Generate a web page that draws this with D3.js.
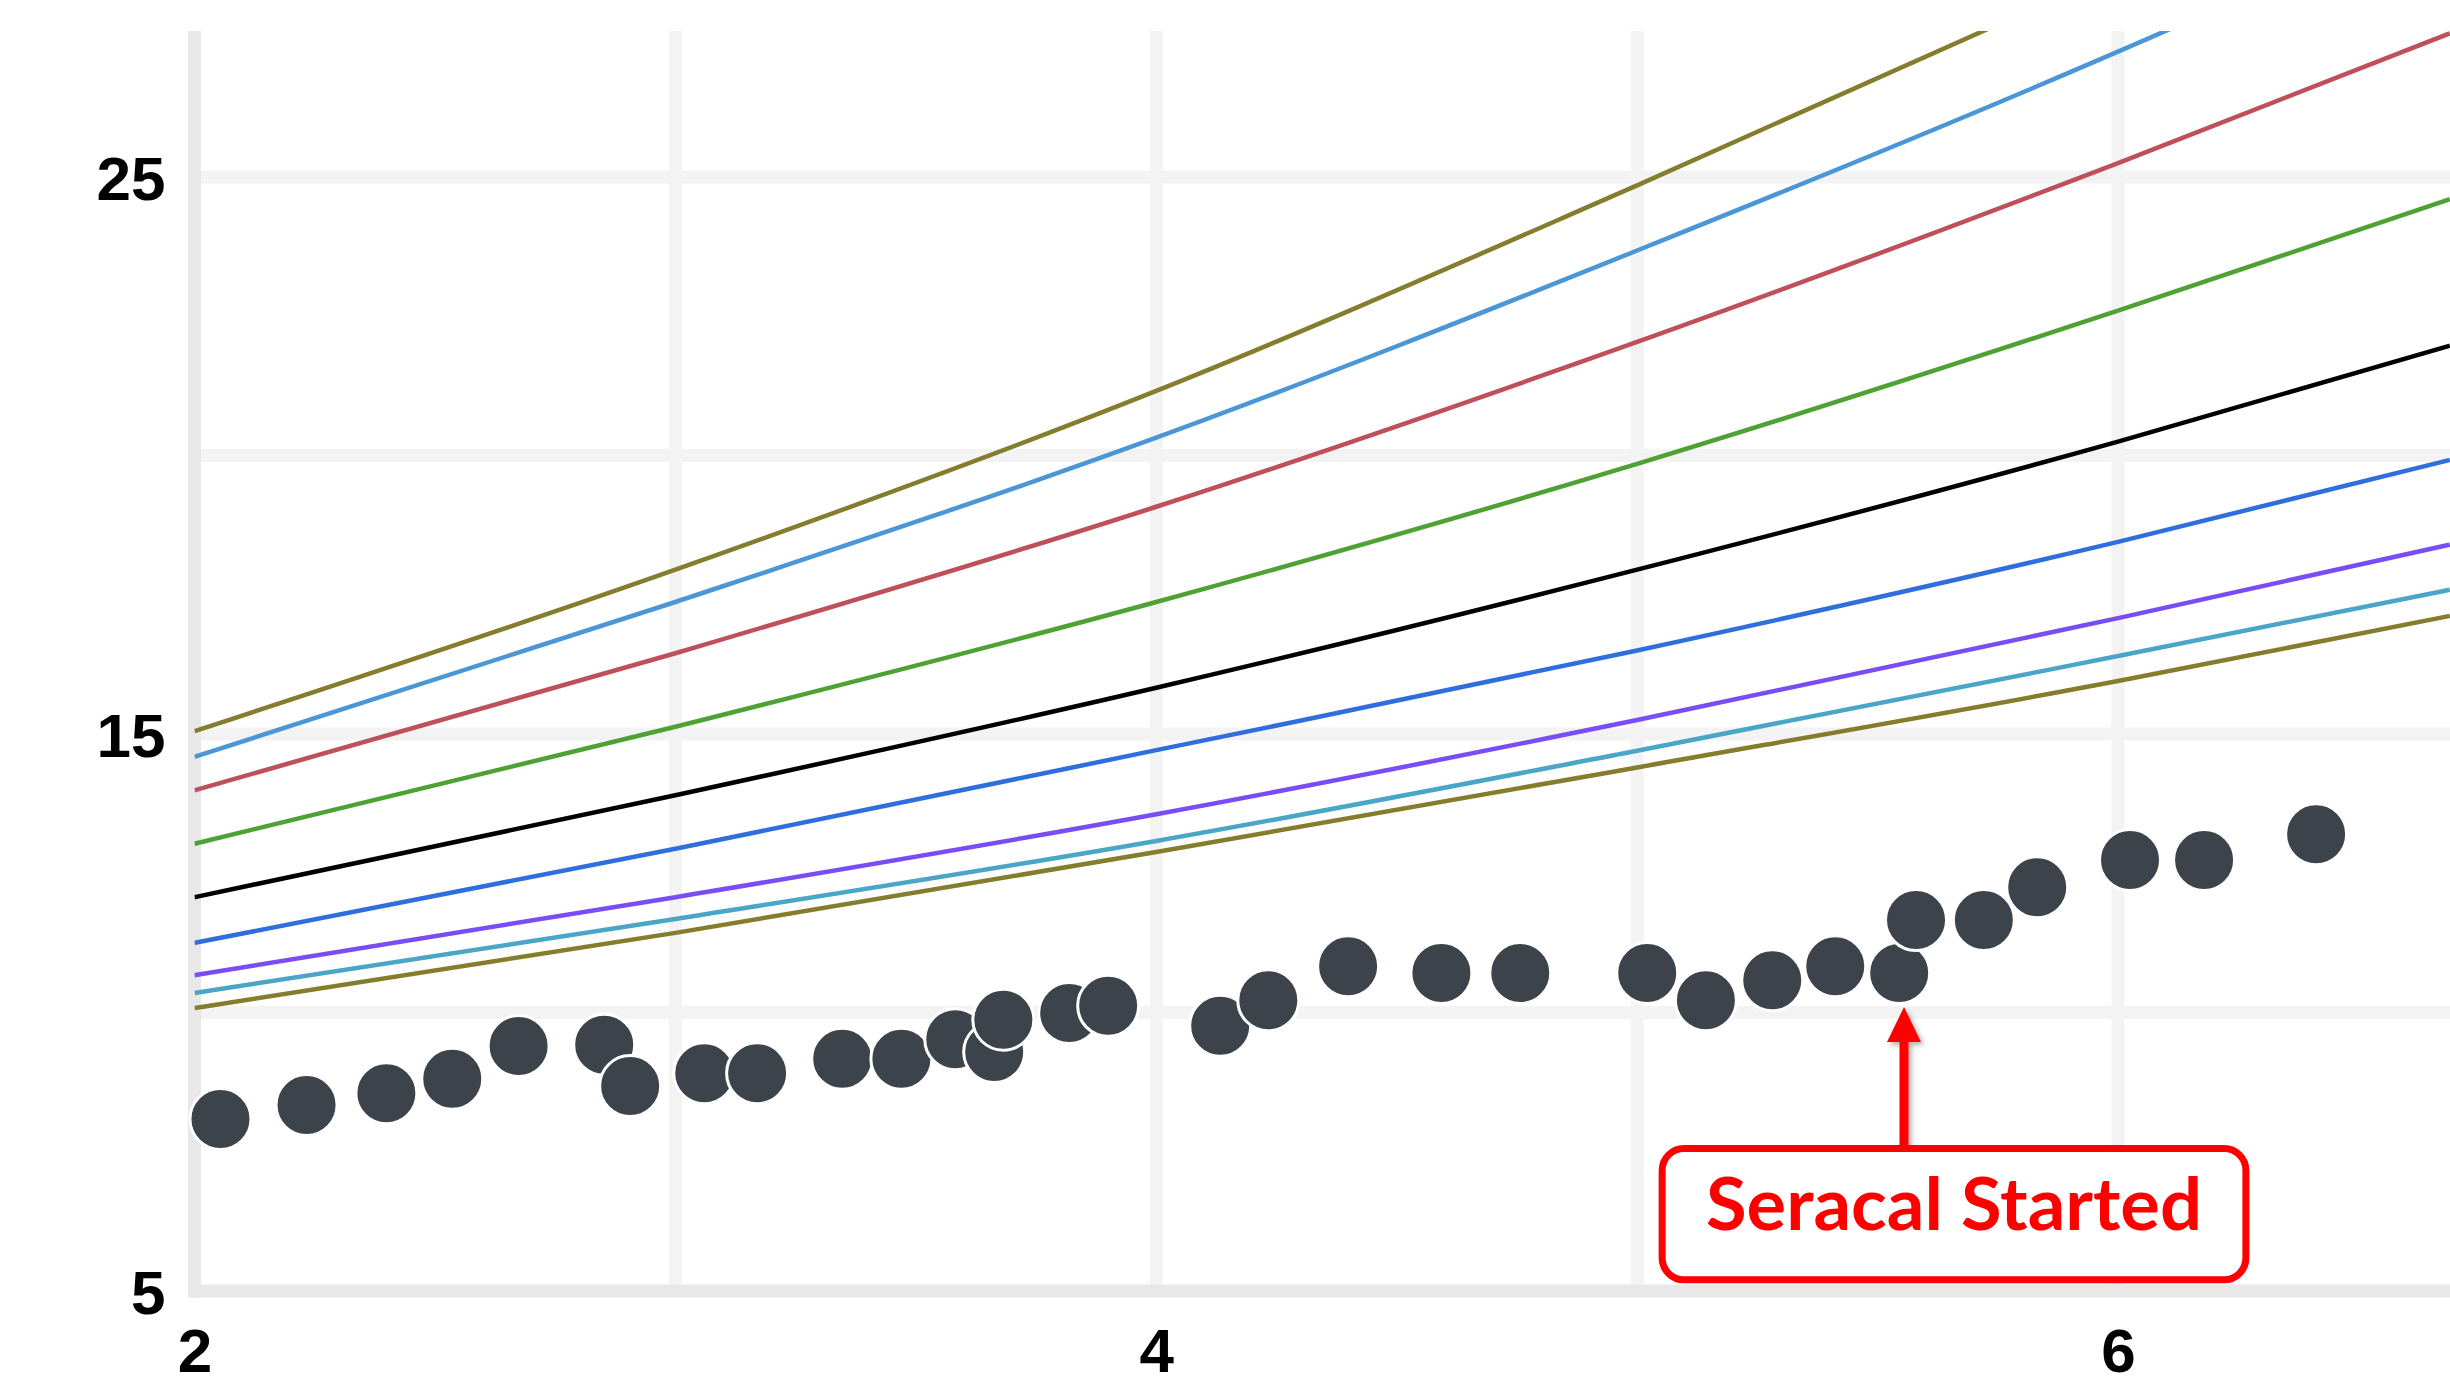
<!DOCTYPE html>
<html><head><meta charset="utf-8">
<script src="https://cdn.jsdelivr.net/npm/d3@7"></script>
<style>html,body{margin:0;padding:0;background:#fff;} svg{display:block}</style>
</head><body>
<svg id="chart" width="2450" height="1388"></svg>
<script>
// ---------- data ----------
const xTicks = [2, 4, 6];
const yTicks = [5, 15, 25];
const xGrid = [3, 4, 5, 6];
const yGrid = [10, 15, 20, 25];

const curveX = [2, 3, 4, 5, 6, 6.69];
const curveOliveTop   = [15.05, 17.95, 21.16, 24.85, 28.70, 31.45];
const curveLightBlue  = [14.59, 17.37, 20.32, 23.68, 27.25, 29.90];
const curveRed        = [13.99, 16.45, 19.08, 22.04, 25.25, 27.58];
const curveGreen      = [13.03, 15.13, 17.37, 19.85, 22.60, 24.60];
const curveBlack      = [12.07, 13.90, 15.83, 17.95, 20.25, 21.97];
const curveBlue       = [11.25, 12.94, 14.71, 16.50, 18.45, 19.92];
const curvePurple     = [10.67, 12.07, 13.56, 15.25, 17.08, 18.40];
const curveCyan       = [10.35, 11.68, 13.08, 14.70, 16.40, 17.59];
const curveOliveLow   = [10.08, 11.43, 12.88, 14.40, 15.95, 17.12];

const curveSeries = [curveOliveTop, curveLightBlue, curveRed, curveGreen, curveBlack, curveBlue, curvePurple, curveCyan, curveOliveLow];
const curveColors = ["#857d2e", "#4a96d6", "#bf4f5b", "#4ea133", "#000000", "#2f6fdd", "#7a4cf5", "#49a6c6", "#857c2c"];

const pointX = [2.054, 2.233, 2.399, 2.536, 2.674, 2.852, 2.906, 3.060, 3.170, 3.347, 3.470,
                3.582, 3.663, 3.682, 3.819, 3.900, 4.133, 4.233, 4.399, 4.593, 4.757, 5.021,
                5.143, 5.281, 5.412, 5.545, 5.580, 5.721, 5.832, 6.025, 6.179, 6.412];
const pointY = [8.09, 8.34, 8.55, 8.81, 9.40, 9.42, 8.68, 8.91, 8.91, 9.17, 9.17,
                9.52, 9.29, 9.87, 9.99, 10.12, 9.76, 10.22, 10.83, 10.71, 10.71, 10.71,
                10.22, 10.58, 10.83, 10.71, 11.66, 11.66, 12.25, 12.74, 12.74, 13.20];

const annotationText = "Seracal Started";
const annotationTip = [5.555, 10.1];      // arrow tip (data units)
const annotationBox = [5.052, 6.266, 7.56, 5.2]; // left, right, top, bottom (data units)

// ---------- layout ----------
const W = 2450, H = 1388;
const plotLeft = 194.5, plotRight = 2450, plotTop = 31, plotBottom = 1291;

const x = d3.scaleLinear().domain([2, 6]).range([plotLeft, 2118]);
const y = d3.scaleLinear().domain([5, 25]).range([plotBottom, 177]);

const svg = d3.select("#chart");

svg.append("defs").append("clipPath").attr("id", "plotClip")
  .append("rect").attr("x", plotLeft).attr("y", plotTop)
  .attr("width", plotRight - plotLeft).attr("height", plotBottom - plotTop);

const shadow = svg.select("defs").append("filter").attr("id", "shadow")
  .attr("x", "-50%").attr("y", "-50%").attr("width", "200%").attr("height", "200%");
shadow.append("feDropShadow").attr("dx", 3).attr("dy", 3).attr("stdDeviation", 2.5)
  .attr("flood-color", "#000").attr("flood-opacity", 0.3);

// grid
const grid = svg.append("g");
grid.selectAll("line.v").data(xGrid).join("line")
  .attr("x1", d => x(d)).attr("x2", d => x(d))
  .attr("y1", plotTop).attr("y2", plotBottom)
  .attr("stroke", "#f3f3f3").attr("stroke-width", 13);
grid.selectAll("line.h").data(yGrid).join("line")
  .attr("x1", plotLeft).attr("x2", plotRight)
  .attr("y1", d => y(d)).attr("y2", d => y(d))
  .attr("stroke", "#f3f3f3").attr("stroke-width", 13);
// axis lines
grid.append("line").attr("x1", x(2)).attr("x2", x(2)).attr("y1", plotTop).attr("y2", plotBottom + 6.5)
  .attr("stroke", "#e8e8e8").attr("stroke-width", 13);
grid.append("line").attr("x1", x(2) - 6.5).attr("x2", plotRight).attr("y1", y(5)).attr("y2", y(5))
  .attr("stroke", "#e8e8e8").attr("stroke-width", 13);

// curves
const lineGen = d3.line().x(d => x(d[0])).y(d => y(d[1])).curve(d3.curveMonotoneX);
svg.append("g").attr("clip-path", "url(#plotClip)")
  .selectAll("path").data(curveSeries).join("path")
  .attr("d", s => lineGen(s.map((v, i) => [curveX[i], v])))
  .attr("fill", "none")
  .attr("stroke", (s, i) => curveColors[i])
  .attr("stroke-width", 4.5);

// points
svg.append("g").selectAll("circle").data(pointX).join("circle")
  .attr("cx", d => x(d)).attr("cy", (d, i) => y(pointY[i]))
  .attr("r", 30.5)
  .attr("fill", "#3d434b")
  .attr("stroke", "#ffffff").attr("stroke-width", 3);

// annotation
const ann = svg.append("g");
const tipX = x(annotationTip[0]), tipY = y(annotationTip[1]);
const bx0 = x(annotationBox[0]), bx1 = x(annotationBox[1]);
const by0 = y(annotationBox[2]), by1 = y(annotationBox[3]);
const arrow = ann.append("g").attr("filter", "url(#shadow)");
arrow.append("rect").attr("x", tipX - 4.5).attr("y", tipY + 28).attr("width", 9).attr("height", by0 - tipY - 28)
  .attr("fill", "#ff0000");
arrow.append("path")
  .attr("d", `M${tipX},${tipY} L${tipX + 17},${tipY + 35} L${tipX - 17},${tipY + 35} Z`)
  .attr("fill", "#ff0000");
ann.append("rect").attr("x", bx0).attr("y", by0).attr("width", bx1 - bx0).attr("height", by1 - by0)
  .attr("rx", 22).attr("ry", 22)
  .attr("fill", "#ffffff").attr("stroke", "#ff0000").attr("stroke-width", 7);
ann.append("text")
  .attr("x", (bx0 + bx1) / 2).attr("y", by0 + 82)
  .attr("text-anchor", "middle")
  .attr("font-family", "Lato, 'Open Sans', sans-serif")
  .attr("font-weight", "bold").attr("font-size", 72)
  .attr("fill", "#ff0000")
  .attr("textLength", 496).attr("lengthAdjust", "spacingAndGlyphs")
  .text(annotationText);

// axes labels
const yAxis = d3.axisLeft(y).tickValues(yTicks).tickSize(0).tickPadding(29).tickFormat(d3.format("d"));
const xAxis = d3.axisBottom(x).tickValues(xTicks).tickSize(0).tickPadding(37).tickFormat(d3.format("d"));
const gy = svg.append("g").attr("transform", `translate(${plotLeft},0)`).call(yAxis);
const gx = svg.append("g").attr("transform", `translate(0,${plotBottom})`).call(xAxis);
[gy, gx].forEach(g => {
  g.select(".domain").remove();
  g.selectAll("text").attr("font-family", "'Liberation Sans', Arial, sans-serif")
    .attr("font-weight", "bold").attr("font-size", 62).attr("fill", "#000");
});
gy.selectAll("text").attr("dy", "0.37em");
</script>
</body></html>
